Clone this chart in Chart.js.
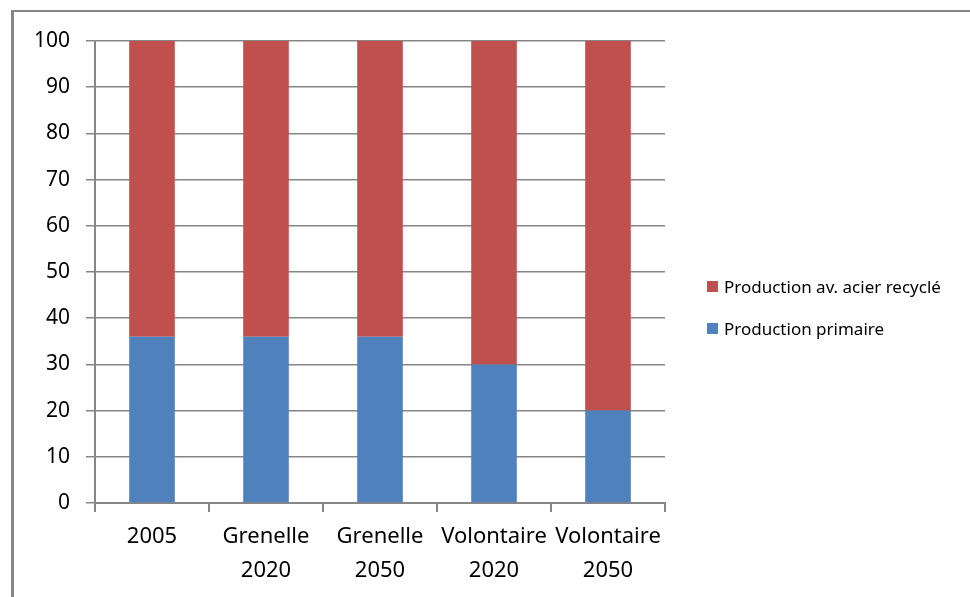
<!DOCTYPE html>
<html>
<head>
<meta charset="utf-8">
<script src="https://cdn.jsdelivr.net/npm/chart.js@4"></script>
<style>
  html, body { margin: 0; padding: 0; background: #fff; overflow: hidden; }
  #wrap { position: relative; width: 970px; height: 597px; }
  #frame {
    position: absolute; left: 11px; top: 10px; width: 1000px; height: 700px;
    border-left: 3px solid #868686; border-top: 2px solid #868686;
  }
  #chart { position: absolute; left: 0; top: 0; }
  #legend {
    position: absolute; left: 707px; top: 274px;
    font-family: "Noto Sans", sans-serif; font-size: 17px; color: #000;
  }
  .item { display: flex; align-items: center; height: 24px; margin-bottom: 18px; }
  .box { width: 11px; height: 11px; margin-right: 6px; }
</style>
</head>
<body>
<div id="wrap">
  <div id="frame"></div>
  <canvas id="chart" width="970" height="597"></canvas>
  <div id="legend"></div>
</div>
<script>
const categories = [["2005"], ["Grenelle", "2020"], ["Grenelle", "2050"], ["Volontaire", "2020"], ["Volontaire", "2050"]];
const primaire = [36, 36, 36, 30, 20];
const recycle = [64, 64, 64, 70, 80];
const seriesNames = ["Production primaire", "Production av. acier recyclé"];
const seriesColors = ["#4F81BD", "#C0504D"];
const yTicks = [0, 10, 20, 30, 40, 50, 60, 70, 80, 90, 100];

const gridColor = "#868686";

const ctx = document.getElementById("chart").getContext("2d");
new Chart(ctx, {
  type: "bar",
  data: {
    labels: categories,
    datasets: [
      { label: seriesNames[0], data: primaire, backgroundColor: seriesColors[0], barPercentage: 0.4, categoryPercentage: 1 },
      { label: seriesNames[1], data: recycle, backgroundColor: seriesColors[1], barPercentage: 0.4, categoryPercentage: 1 },
    ],
  },
  options: {
    responsive: false,
    animation: false,
    layout: { padding: { left: 0, top: 41, right: 305, bottom: 0 } },
    plugins: { legend: { display: false }, tooltip: { enabled: false } },
    scales: {
      x: {
        stacked: true,
        grid: { offset: true, drawOnChartArea: false, color: gridColor, lineWidth: 2, tickLength: 9 },
        border: { color: gridColor, width: 2 },
        ticks: {
          color: "#000",
          font: { family: "Noto Sans", size: 22, lineHeight: 1.55 },
          maxRotation: 0,
          autoSkip: false,
          padding: 8,
        },
        afterFit: (scale) => { scale.height = 94; },
      },
      y: {
        stacked: true,
        min: 0,
        max: 100,
        afterBuildTicks: (scale) => { scale.ticks = yTicks.map((v) => ({ value: v })); },
        grid: { color: gridColor, lineWidth: 1.5, tickLength: 9 },
        border: { color: gridColor, width: 2 },
        ticks: { color: "#000", font: { family: "Noto Sans", size: 21 }, padding: 16 },
        afterFit: (scale) => { scale.width = 95; },
      },
    },
  },
});

// legend (recycled series listed first, as in the original)
const legend = document.getElementById("legend");
[1, 0].forEach((i) => {
  const item = document.createElement("div");
  item.className = "item";
  item.innerHTML = '<span class="box" style="background:' + seriesColors[i] + '"></span><span>' + seriesNames[i] + "</span>";
  legend.appendChild(item);
});
</script>
</body>
</html>
